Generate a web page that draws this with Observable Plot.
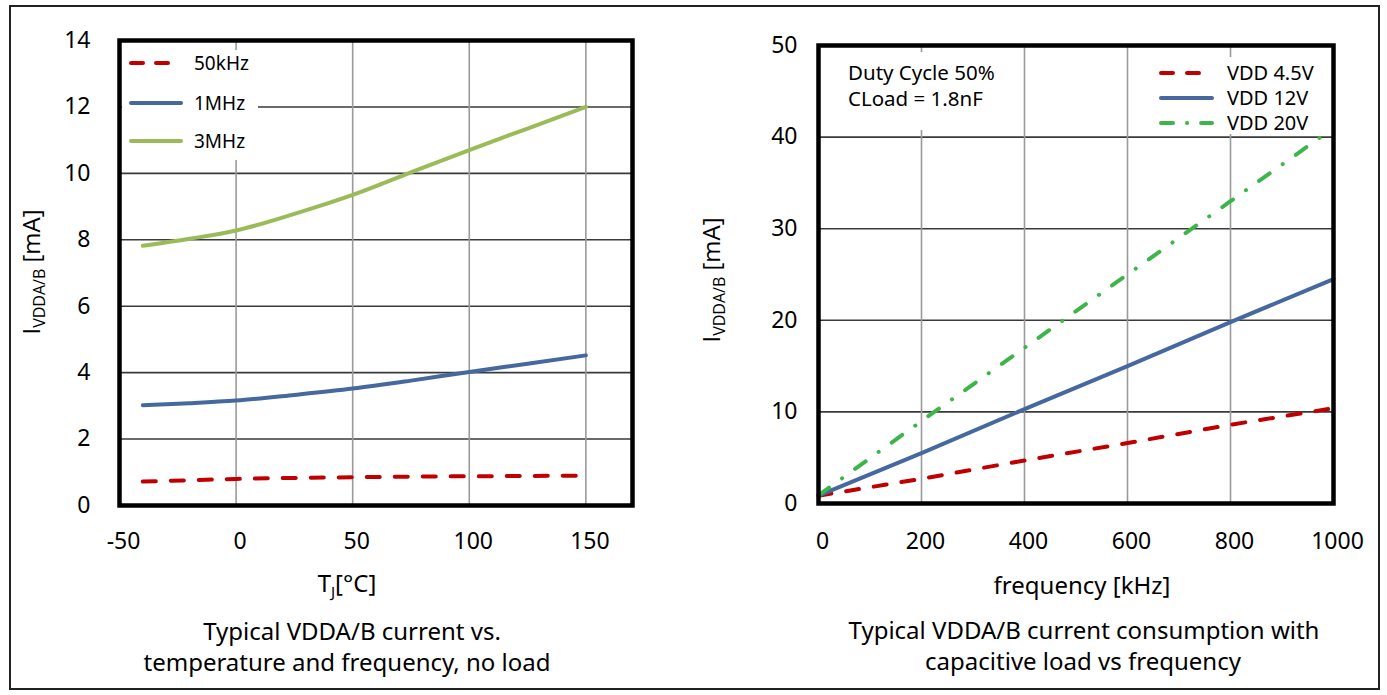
<!DOCTYPE html>
<html>
<head>
<meta charset="utf-8">
<script src="https://cdn.jsdelivr.net/npm/d3@7"></script>
<script src="https://cdn.jsdelivr.net/npm/@observablehq/plot@0.6"></script>
<style>
html, body { margin: 0; padding: 0; background: #fff; }
#page { position: relative; width: 1387px; height: 695px; overflow: hidden; font-family: "Noto Sans", sans-serif; color: #000; background: #fff; }
#border { position: absolute; left: 9px; top: 5px; width: 1371px; height: 685px; border: 2px solid #222; box-sizing: border-box; }
.chart { position: absolute; top: 0; }
.t { position: absolute; transform: translate(-50%, -50%); white-space: nowrap; font-size: 24px; line-height: 1; font-family: "Noto Sans", sans-serif; }
.t sub { font-size: 15px; vertical-align: -0.3em; }
.ylab { position: absolute; transform: translate(-50%, -50%) rotate(-90deg); white-space: nowrap; font-size: 24px; line-height: 1; font-family: "Open Sans", "Noto Sans", sans-serif; }
.ylab sub { font-size: 16px; vertical-align: -0.3em; }
.box { position: absolute; background: #fff; }
.box .row { position: absolute; left: 0; white-space: nowrap; line-height: 1; transform: translateY(-50%); }
</style>
</head>
<body>
<div id="page"><div id="border"></div></div>
<script>
// ---------- data: left chart (current vs temperature) ----------
const tempC       = [-40, -20, 0, 25, 50, 75, 100, 125, 150];
const i50kHz      = [0.72, 0.76, 0.80, 0.83, 0.85, 0.87, 0.88, 0.89, 0.90];
const i1MHz       = [3.02, 3.08, 3.16, 3.33, 3.52, 3.76, 4.02, 4.27, 4.52];
const i3MHz       = [7.82, 8.03, 8.28, 8.78, 9.35, 10.03, 10.70, 11.35, 12.00];
const leftSeries  = ["50kHz", "1MHz", "3MHz"];
const tempTicks   = [-50, 0, 50, 100, 150];
const leftYTicks  = [0, 2, 4, 6, 8, 10, 12, 14];

// ---------- data: right chart (current vs frequency) ----------
const freqKHz     = [0, 200, 400, 600, 800, 1000];
const freqKHz20   = [0, 200, 400, 600, 800, 980];
const iVdd45      = [0.85, 2.7, 4.7, 6.6, 8.6, 10.4];
const iVdd12      = [0.85, 5.5, 10.3, 15.0, 19.8, 24.5];
const iVdd20      = [0.9, 9.0, 17.0, 25.0, 33.0, 40.2];
const rightSeries = ["VDD 4.5V", "VDD 12V", "VDD 20V"];
const freqTicks   = [0, 200, 400, 600, 800, 1000];
const rightYTicks = [0, 10, 20, 30, 40, 50];

// ---------- styles ----------
const RED = "#C00000", BLUE = "#45689F", LGREEN = "#9BBB59", GREEN = "#3DB54A";
const DASH = "13,15", DASHDOT = "13,16,0.1,16";
const fmt = d => String(d);

const leftRows = [
  ...tempC.map((t, i) => ({t, v: i50kHz[i], s: leftSeries[0]})),
  ...tempC.map((t, i) => ({t, v: i1MHz[i],  s: leftSeries[1]})),
  ...tempC.map((t, i) => ({t, v: i3MHz[i],  s: leftSeries[2]}))
];
const rightRows = [
  ...freqKHz.map((f, i) => ({f, v: iVdd45[i], s: rightSeries[0]})),
  ...freqKHz.map((f, i) => ({f, v: iVdd12[i], s: rightSeries[1]})),
  ...freqKHz20.map((f, i) => ({f, v: iVdd20[i], s: rightSeries[2]}))
];

const baseStyle = {fontFamily: '"Noto Sans", sans-serif', fontSize: "23px", color: "#000", background: "transparent", overflow: "visible"};

const leftPlot = Plot.plot({
  width: 640, height: 560,
  marginLeft: 119, marginRight: 8, marginTop: 40, marginBottom: 55,
  style: baseStyle,
  x: {domain: [-50, 170]},
  y: {domain: [0, 14]},
  marks: [
    Plot.gridY(leftYTicks, {stroke: "#3a3a3a", strokeOpacity: 1, strokeWidth: 1.6}),
    Plot.gridX(tempTicks, {stroke: "#9a9a9a", strokeOpacity: 1, strokeWidth: 1.6}),
    Plot.line(leftRows.filter(d => d.s === "50kHz"), {x: "t", y: "v", stroke: RED, strokeWidth: 4, strokeDasharray: DASH, strokeLinecap: "round", curve: "monotone-x"}),
    Plot.line(leftRows.filter(d => d.s === "1MHz"), {x: "t", y: "v", stroke: BLUE, strokeWidth: 4, strokeLinecap: "round", curve: "monotone-x"}),
    Plot.line(leftRows.filter(d => d.s === "3MHz"), {x: "t", y: "v", stroke: LGREEN, strokeWidth: 4, strokeLinecap: "round", curve: "monotone-x"}),
    Plot.frame({stroke: "#000", strokeWidth: 4.5}),
    Plot.axisX(tempTicks, {tickSize: 0, tickPadding: 27, label: null, dx: 4, tickFormat: fmt}),
    Plot.axisY(leftYTicks, {tickSize: 0, tickPadding: 29, label: null, tickFormat: fmt})
  ]
});

const rightPlot = Plot.plot({
  width: 660, height: 560,
  marginLeft: 138, marginRight: 7, marginTop: 45, marginBottom: 57,
  style: baseStyle,
  x: {domain: [0, 1000]},
  y: {domain: [0, 50]},
  marks: [
    Plot.gridY(rightYTicks, {stroke: "#3a3a3a", strokeOpacity: 1, strokeWidth: 1.6}),
    Plot.gridX(freqTicks, {stroke: "#9a9a9a", strokeOpacity: 1, strokeWidth: 1.6}),
    Plot.line(rightRows.filter(d => d.s === "VDD 4.5V"), {x: "f", y: "v", stroke: RED, strokeWidth: 4, strokeDasharray: DASH, strokeLinecap: "round"}),
    Plot.line(rightRows.filter(d => d.s === "VDD 12V"), {x: "f", y: "v", stroke: BLUE, strokeWidth: 4, strokeLinecap: "round"}),
    Plot.line(rightRows.filter(d => d.s === "VDD 20V"), {x: "f", y: "v", stroke: GREEN, strokeWidth: 4, strokeDasharray: DASHDOT, strokeLinecap: "round"}),
    Plot.frame({stroke: "#000", strokeWidth: 4.5}),
    Plot.axisX(freqTicks, {tickSize: 0, tickPadding: 29, label: null, dx: 4, tickFormat: fmt}),
    Plot.axisY(rightYTicks, {tickSize: 0, tickPadding: 21, label: null, tickFormat: fmt})
  ]
});

const page = document.getElementById("page");
leftPlot.classList.add("chart");  leftPlot.style.left = "0px";
rightPlot.classList.add("chart"); rightPlot.style.left = "680px";
page.appendChild(leftPlot);
page.appendChild(rightPlot);

function add(html, cls, x, y, extra) {
  const d = document.createElement("div");
  d.className = cls;
  d.style.left = x + "px"; d.style.top = y + "px";
  if (extra) Object.assign(d.style, extra);
  d.innerHTML = html;
  page.appendChild(d);
  return d;
}

// axis titles and captions
add("I<sub>VDDA/B</sub> [mA]", "ylab", 33, 272);
add("I<sub>VDDA/B</sub> [mA]", "ylab", 713, 280);
add("T<sub>J</sub>[°C]", "t", 347, 585);
add("frequency [kHz]", "t", 1082, 585);
add("Typical VDDA/B current vs.", "t", 352, 631);
add("temperature and frequency, no load", "t", 347, 662);
add("Typical VDDA/B current consumption with", "t", 1084, 630);
add("capacitive load vs frequency", "t", 1083, 661);

// legend helper
function swatch(color, dash, w) {
  return `<svg width="${w + 8}" height="10" style="position:absolute;left:0;top:-5px;overflow:visible">` +
    `<line x1="4" y1="5" x2="${w + 4}" y2="5" stroke="${color}" stroke-width="4" stroke-linecap="round"` +
    (dash ? ` stroke-dasharray="${dash}"` : "") + `/></svg>`;
}
function legend(x, y, w, h, items, swX, swW, txtX, fontSize) {
  const box = add("", "box", x, y, {width: w + "px", height: h + "px"});
  items.forEach(it => {
    const r = document.createElement("div");
    r.className = "row";
    r.style.top = (it.y - y) + "px";
    r.style.left = "0px";
    r.innerHTML = `<div style="position:absolute;left:${swX - x - 4}px;top:0">${swatch(it.color, it.dash, swW)}</div>` +
      `<span style="position:absolute;left:${txtX - x}px;top:0;transform:translateY(-50%);font-size:${fontSize}px;white-space:nowrap">${it.label}</span>`;
    box.appendChild(r);
  });
}
legend(122, 50, 136, 110, [
  {label: leftSeries[0], color: RED, dash: "12,13", y: 63},
  {label: leftSeries[1], color: BLUE, dash: null, y: 103},
  {label: leftSeries[2], color: LGREEN, dash: null, y: 141}
], 131, 50, 194, 19);
legend(1147, 57, 183, 77, [
  {label: rightSeries[0], color: RED, dash: "12,14", y: 73},
  {label: rightSeries[1], color: BLUE, dash: null, y: 98},
  {label: rightSeries[2], color: GREEN, dash: "12,14,0.1,14", y: 123}
], 1161, 51, 1227, 20);

// annotation box
const ann = add("", "box", 821, 52, {width: "190px", height: "78px"});
ann.innerHTML = `<div style="position:absolute;left:27px;top:20px;transform:translateY(-50%);font-size:20.5px;white-space:nowrap">Duty Cycle 50%</div>` +
  `<div style="position:absolute;left:27px;top:46px;transform:translateY(-50%);font-size:20.5px;white-space:nowrap">CLoad = 1.8nF</div>`;
</script>
</body>
</html>
